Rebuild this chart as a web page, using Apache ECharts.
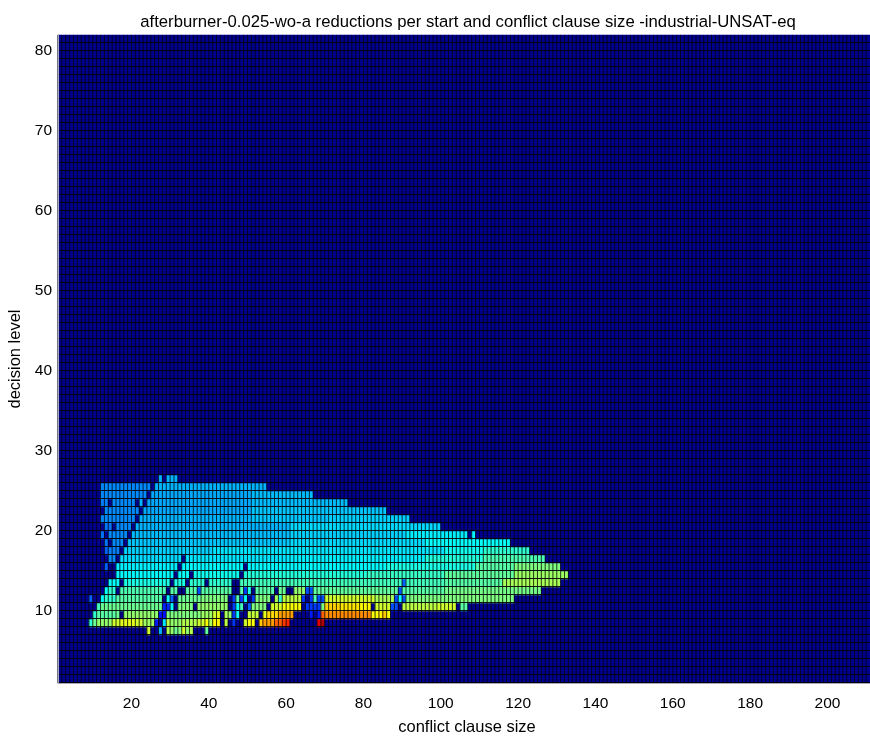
<!DOCTYPE html>
<html><head><meta charset="utf-8">
<style>html,body{margin:0;padding:0;background:#fff}#c{width:870px;height:740px}</style>
<script src="https://cdn.jsdelivr.net/npm/echarts@6/dist/echarts.min.js"></script>
</head><body><div id="c"></div>
<script>
const titleText = "afterburner-0.025-wo-a reductions per start and conflict clause size -industrial-UNSAT-eq";
const xName = "conflict clause size";
const yName = "decision level";
const xTicks = [20,40,60,80,100,120,140,160,180,200];
const yTicks = [10,20,30,40,50,60,70,80];
const colCount = 210;
const levelCount = 81;
// each run: [first clause size, last clause size, value on a 0-100 colour scale]
const row07 = [[24,24,58],[27,27,30],[29,29,55],[30,30,52],[31,31,48],[32,32,50],[33,33,58],[34,34,52],[35,35,55],[39,39,47]];
const row08 = [[9,9,42],[10,10,48],[11,14,52],[15,16,58],[17,20,60],[21,22,58],[23,25,53],[26,26,15],[28,28,35],[29,29,56],[30,32,52],[33,36,55],[37,38,58],[39,39,62],[40,40,54],[41,42,63],[44,44,56],[46,46,18],[49,49,58],[50,51,62],[53,53,68],[54,56,72],[57,58,78],[59,59,82],[60,60,84],[68,68,90],[69,69,95]];
const row09 = [[10,10,42],[11,15,46],[16,16,48],[18,26,52],[27,28,14],[29,37,50],[38,40,53],[41,41,58],[42,42,60],[44,44,54],[45,45,52],[46,46,18],[47,47,38],[50,52,57],[54,54,60],[55,57,66],[58,61,72],[66,66,15],[68,68,15],[69,69,78],[70,81,74],[82,83,62],[84,84,64],[85,85,68],[86,86,62]];
const row10 = [[11,11,44],[12,27,48],[28,29,16],[30,30,38],[32,35,50],[37,44,52],[46,46,18],[47,47,38],[48,48,44],[50,50,22],[51,54,50],[56,58,58],[59,63,62],[65,68,18],[69,69,50],[70,73,67],[74,78,65],[79,81,63],[83,86,58],[87,88,20],[90,98,56],[99,103,58],[105,106,46]];
const row11 = [[9,9,22],[12,12,38],[13,15,42],[16,27,46],[29,29,38],[30,30,22],[32,37,48],[38,44,50],[46,46,18],[47,47,46],[48,48,18],[49,49,38],[51,51,18],[52,55,50],[57,57,54],[58,58,42],[59,63,56],[64,64,18],[66,66,18],[67,67,45],[68,69,20],[70,82,58],[83,86,54],[87,87,54],[88,88,20],[89,89,38],[90,90,20],[91,118,50]];
const row12 = [[13,13,38],[14,15,42],[17,28,45],[30,31,46],[34,36,46],[37,37,20],[38,45,46],[48,48,46],[49,49,18],[50,50,40],[52,56,46],[58,59,48],[62,64,52],[65,66,20],[67,88,47],[89,89,20],[90,100,46],[101,125,49]];
const row13 = [[14,16,38],[18,29,40],[31,33,40],[35,38,42],[40,45,42],[48,89,44],[90,90,22],[91,100,44],[101,115,46],[116,130,54]];
const row14 = [[16,30,37],[32,34,38],[36,47,39],[49,80,41],[81,100,43],[101,118,47],[119,132,53]];
const row15 = [[13,13,22],[16,31,36],[33,48,37],[50,85,37],[86,108,40],[109,118,46],[119,130,50]];
const row16 = [[14,15,26],[17,32,34],[34,60,35],[61,95,36],[96,110,41],[111,126,45]];
const row17 = [[13,13,22],[14,16,25],[18,40,33],[41,100,35],[101,110,39],[111,122,42]];
const row18 = [[13,13,24],[15,17,26],[19,60,32],[61,95,34],[96,117,38]];
const row19 = [[12,12,24],[14,18,26],[20,60,31],[61,90,33],[91,106,36],[108,108,37]];
const row20 = [[13,14,24],[16,19,26],[21,60,30],[61,99,34]];
const row21 = [[12,20,26],[22,50,30],[51,70,32],[71,91,33]];
const row22 = [[13,21,26],[23,50,29],[51,85,32]];
const row23 = [[12,13,25],[15,20,26],[22,22,30],[24,50,29],[51,75,31]];
const row24 = [[12,23,26],[25,50,29],[51,66,31]];
const row25 = [[12,24,26],[26,54,30]];
const row26 = [[27,27,30],[29,31,30]];
const levels = [7,8,9,10,11,12,13,14,15,16,17,18,19,20,21,22,23,24,25,26];
const rows = [row07,row08,row09,row10,row11,row12,row13,row14,row15,row16,row17,row18,row19,row20,row21,row22,row23,row24,row25,row26];
const jet = ['#00008f','#0000ff','#0080ff','#00ffff','#80ff80','#ffff00','#ff8000','#ff0000','#800000'];

const grid = [];
for (let y=0;y<levelCount;y++){ grid.push(new Array(colCount).fill(0)); }
rows.forEach((runs,i)=>{
  runs.forEach(([a,b,v])=>{ for(let c=a;c<=b;c++){ grid[levels[i]-1][c-1]=v; } });
});
const cells=[];
grid.forEach((line,y)=>line.forEach((v,x)=>cells.push([x,y,v])));
const xCats=Array.from({length:colCount},(_,i)=>String(i+1));
const yCats=Array.from({length:levelCount},(_,i)=>String(i+1));
const font="Liberation Sans";
function colLine(params,api){
  const cs=params.coordSys;
  const x=api.coord([api.value(0),0])[0]-api.size([1,1])[0]/2;
  return {type:'line',silent:true,shape:{x1:x,y1:cs.y,x2:x,y2:cs.y+cs.height},style:{stroke:'#000',lineWidth:0.8}};
}
function rowLine(params,api){
  const cs=params.coordSys;
  const y=Math.round(api.coord([0,api.value(1)])[1]+api.size([1,1])[1]/2)-0.5;
  return {type:'line',silent:true,shape:{x1:cs.x,y1:y,x2:cs.x+cs.width,y2:y},style:{stroke:'#000',lineWidth:0.9}};
}
const chart=echarts.init(document.getElementById('c'),null,{renderer:'canvas'});
chart.setOption({
  animation:false,
  backgroundColor:'#fff',
  textStyle:{fontFamily:font},
  title:{text:titleText,left:463,top:9,textAlign:'center',textStyle:{fontFamily:font,fontSize:16.7,fontWeight:'normal',color:'#000'}},
  grid:{left:58,right:0,top:35,bottom:57,containLabel:false,outerBoundsMode:'none'},
  visualMap:{show:false,min:0,max:100,dimension:2,inRange:{color:jet},seriesIndex:0},
  xAxis:[
    {type:'category',data:xCats,gridIndex:0,show:false},
    {type:'value',min:1,max:211,gridIndex:0,position:'bottom',z:6,splitLine:{show:false},
     name:xName,nameLocation:'middle',nameGap:36,nameTextStyle:{fontFamily:font,fontSize:16.5,color:'#000',padding:[0,0,0,6]},
     axisLine:{show:true,onZero:false,lineStyle:{color:'#a8a8b8',width:1}},
     axisTick:{show:false},
     axisLabel:{customValues:xTicks,fontFamily:font,fontSize:15.5,color:'#000',margin:13}}
  ],
  yAxis:[
    {type:'category',data:yCats,gridIndex:0,show:false},
    {type:'value',min:1,max:82,gridIndex:0,position:'left',z:6,splitLine:{show:false},
     name:yName,nameLocation:'middle',nameGap:31,nameRotate:90,nameTextStyle:{fontFamily:font,fontSize:16.5,color:'#000'},
     axisLine:{show:true,onZero:false,lineStyle:{color:'#a8a8b8',width:1}},
     axisTick:{show:false},
     axisLabel:{customValues:yTicks,fontFamily:font,fontSize:15.5,color:'#000',margin:6}}
  ],
  series:[
    {type:'heatmap',xAxisIndex:0,yAxisIndex:0,data:cells,progressive:0,z:2,itemStyle:{borderWidth:0},emphasis:{disabled:true}},
    {type:'custom',xAxisIndex:0,yAxisIndex:0,z:3,silent:true,progressive:0,renderItem:colLine,encode:{x:0,y:1},data:xCats.map((_,i)=>[i,0])},
    {type:'custom',xAxisIndex:0,yAxisIndex:0,z:3,silent:true,progressive:0,renderItem:rowLine,encode:{x:0,y:1},data:yCats.map((_,i)=>[0,i])}
  ]
});
</script></body></html>
